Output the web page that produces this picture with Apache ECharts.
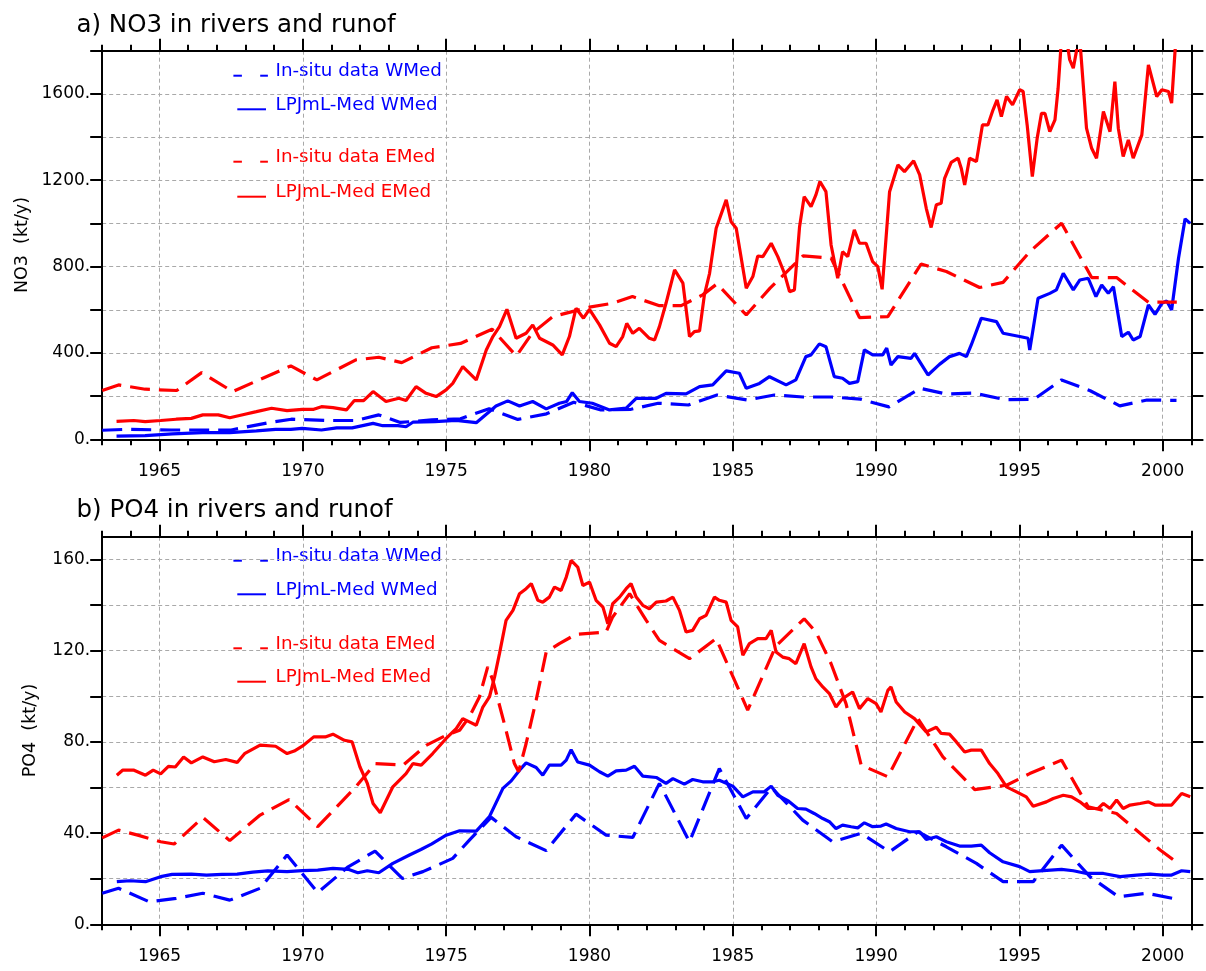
<!DOCTYPE html>
<html><head><meta charset="utf-8">
<script src="https://cdn.jsdelivr.net/npm/echarts@6/dist/echarts.min.js"></script>
<style>html,body{margin:0;padding:0;background:#fff}#c{width:1206px;height:971px}</style>
</head><body><div id="c"></div>
<script>
// ---------- axes ----------
const xMin = 1963, xMax = 2001;
const majorYears = [1965, 1970, 1975, 1980, 1985, 1990, 1995, 2000];
const no3Max = 1800, no3Step = 200;
const po4Max = 170, po4Step = 20;
const po4Ticks = [0, 20, 40, 60, 80, 100, 120, 140, 160];
const titles = ['a) NO3 in rivers and runof', 'b) PO4 in rivers and runof'];
const yNames = ['NO3  (kt/y)', 'PO4  (kt/y)'];
const legendLabels = ['In-situ data WMed', 'LPJmL-Med WMed', 'In-situ data EMed', 'LPJmL-Med EMed'];

// ---------- NO3 (panel a) ----------
const no3InsituWYears = [1963.0,1963.8,1965.4,1967.5,1968.8,1969.6,1970.8,1971.85,1972.65,1973.4,1974.5,1975.5,1976.5,1977.5,1978.5,1979.45,1980.4,1981.45,1982.4,1983.45,1984.45,1985.5,1986.45,1987.45,1988.45,1989.45,1990.45,1991.53,1992.45,1993.4,1994.5,1995.5,1996.47,1997.47,1998.5,1999.45,2000.48];
const no3InsituWValues = [42,46,43,43,77,93,87,87,113,78,90,95,142,92,118,172,136,139,167,159,205,182,205,196,196,186,150,236,210,214,184,185,275,225,155,182,180];

const no3ModelWYears = [1963.5,1964.5,1965.45,1966.5,1967.45,1968.38,1969.05,1969.58,1969.98,1970.65,1971.18,1971.72,1972.45,1972.79,1973.32,1973.6,1973.85,1974.6,1975.35,1976.05,1976.74,1977.15,1977.56,1978.02,1978.49,1978.95,1979.2,1979.4,1979.65,1980.1,1980.7,1981.28,1981.63,1982.33,1982.67,1983.37,1983.84,1984.3,1984.77,1985.23,1985.47,1985.93,1986.28,1986.86,1987.2,1987.55,1987.73,1988.02,1988.25,1988.54,1988.83,1989.07,1989.36,1989.59,1989.88,1990.23,1990.37,1990.52,1990.76,1991.22,1991.34,1991.81,1992.21,1992.56,1992.91,1993.15,1993.32,1993.67,1994.2,1994.43,1995.01,1995.3,1995.36,1995.65,1996.06,1996.29,1996.53,1996.88,1997.11,1997.4,1997.67,1997.87,1998.1,1998.28,1998.57,1998.8,1998.97,1999.21,1999.5,1999.73,1999.97,2000.14,2000.31,2000.55,2000.78,2000.96];
const no3ModelWValues = [15,17,25,31,31,39,46,46,51,43,53,53,74,63,63,58,80,82,88,77,154,178,154,175,141,167,175,216,175,167,136,144,190,190,213,210,244,252,317,306,236,259,290,252,275,383,391,442,429,290,283,259,267,414,391,391,422,344,383,375,398,298,347,383,398,383,437,561,545,491,476,468,414,653,676,692,769,692,738,746,661,715,676,707,476,496,460,476,622,579,630,641,599,839,1021,1000];

const no3InsituEYears = [1963.0,1963.57,1964.5,1965.6,1966.47,1967.55,1969.58,1970.49,1971.85,1972.65,1973.45,1974.5,1975.5,1976.6,1977.45,1978.0,1978.72,1979.5,1980.0,1980.8,1981.5,1982.44,1983.2,1983.95,1984.45,1985.47,1986.3,1987.45,1988.43,1989.42,1990.41,1991.57,1992.45,1993.61,1994.43,1995.36,1996.47,1997.52,1998.39,1999.5,2000.49];
const no3InsituEValues = [226,252,232,226,309,221,340,275,368,380,355,424,444,510,386,491,568,595,612,630,661,619,619,669,720,576,700,850,839,564,568,812,777,703,727,869,1001,749,749,635,635];

const no3ModelEYears = [1963.5,1964.1,1964.5,1965.04,1965.58,1966.11,1966.51,1967.05,1967.45,1967.98,1968.38,1968.91,1969.45,1969.98,1970.38,1970.65,1971.05,1971.52,1971.79,1972.12,1972.45,1972.9,1973.35,1973.6,1973.95,1974.3,1974.65,1975.0,1975.23,1975.58,1976.05,1976.4,1976.63,1976.86,1977.12,1977.44,1977.79,1978.02,1978.26,1978.72,1979.05,1979.3,1979.53,1979.79,1980.0,1980.35,1980.7,1980.93,1981.16,1981.3,1981.51,1981.74,1982.09,1982.27,1982.44,1982.67,1982.97,1983.26,1983.49,1983.66,1983.84,1984.01,1984.19,1984.42,1984.77,1984.94,1985.12,1985.47,1985.7,1985.87,1986.05,1986.34,1986.57,1986.8,1986.98,1987.15,1987.33,1987.49,1987.73,1987.9,1988.04,1988.25,1988.43,1988.66,1988.83,1989.01,1989.24,1989.42,1989.65,1989.88,1990.06,1990.21,1990.47,1990.76,1990.99,1991.31,1991.52,1991.75,1991.92,1992.1,1992.27,1992.39,1992.62,1992.86,1992.97,1993.09,1993.26,1993.5,1993.71,1993.9,1994.08,1994.22,1994.37,1994.55,1994.76,1995.01,1995.13,1995.27,1995.45,1995.62,1995.77,1995.89,1996.06,1996.24,1996.35,1996.45,1996.6,1996.75,1996.88,1997.02,1997.12,1997.34,1997.52,1997.69,1997.93,1998.16,1998.33,1998.45,1998.62,1998.8,1998.97,1999.27,1999.5,1999.79,1999.97,2000.2,2000.31,2000.43,2000.5];
const no3ModelEValues = [83,87,82,87,93,97,113,113,100,116,128,144,133,139,139,151,147,136,179,179,221,175,190,180,244,213,198,229,259,337,275,414,476,522,602,468,491,530,468,437,391,476,607,561,602,530,445,429,476,537,491,514,468,460,522,630,785,723,476,499,502,669,769,978,1109,1008,978,700,754,849,846,908,846,769,684,692,985,1124,1078,1132,1194,1147,900,746,869,846,970,908,908,823,800,695,1147,1271,1240,1290,1225,1070,981,1086,1093,1209,1283,1302,1256,1178,1302,1287,1456,1456,1526,1572,1495,1588,1549,1619,1611,1456,1217,1395,1510,1510,1425,1480,1626,1820,1900,1760,1719,1820,1830,1441,1348,1302,1518,1425,1657,1441,1310,1387,1302,1410,1734,1588,1619,1611,1557,1800,1900];

// ---------- PO4 (panel b) ----------
const po4InsituWYears = [1963.0,1963.57,1964.64,1965.58,1966.51,1967.45,1968.51,1969.45,1970.52,1971.58,1972.52,1973.47,1974.19,1975.23,1975.81,1976.57,1977.44,1978.49,1979.53,1980.58,1981.51,1982.44,1983.49,1984.53,1985.47,1986.35,1987.44,1988.48,1989.48,1990.47,1991.46,1992.45,1993.5,1994.43,1995.48,1996.47,1997.46,1998.45,1999.44,2000.49];
const po4InsituWValues = [13.6,15.8,9.9,11.4,13.6,10.6,15.8,30.4,13.9,25.2,32.1,20.1,23.1,28.9,36.9,46.9,38.4,32.3,48.3,39.1,38.1,61.8,36.2,68.3,46.4,60.0,45.7,36.2,39.9,31.8,40.6,34.0,26.7,18.7,18.7,34.7,20.9,12.1,13.6,11.0];

const po4ModelWYears = [1963.51,1963.97,1964.51,1965.04,1965.44,1966.11,1966.64,1967.18,1967.71,1968.25,1968.78,1969.45,1969.98,1970.52,1971.05,1971.58,1971.92,1972.25,1972.65,1973.14,1973.72,1974.12,1974.5,1975.0,1975.47,1976.05,1976.51,1976.98,1977.27,1977.56,1977.79,1978.14,1978.37,1978.6,1979.01,1979.19,1979.36,1979.59,1980.0,1980.35,1980.64,1980.93,1981.28,1981.57,1981.86,1982.33,1982.67,1982.91,1983.31,1983.6,1983.95,1984.3,1984.53,1985.0,1985.35,1985.7,1986.1,1986.34,1986.57,1986.95,1987.26,1987.55,1987.84,1988.14,1988.37,1988.6,1988.83,1989.13,1989.36,1989.59,1989.88,1990.17,1990.35,1990.7,1991.17,1991.52,1991.75,1992.1,1992.45,1992.91,1993.32,1993.67,1993.96,1994.43,1995.01,1995.36,1995.83,1996.47,1996.88,1997.34,1997.93,1998.51,1999.09,1999.56,2000.02,2000.31,2000.66,2000.96];
const po4ModelWValues = [18.7,19.1,18.7,20.9,21.9,22.0,21.6,21.9,22.0,22.9,23.4,23.1,23.5,23.8,24.5,24.1,22.6,23.5,22.6,26.7,30.4,32.8,35.3,39.1,41.0,40.9,47.2,59.6,62.9,67.6,70.8,68.8,65.4,69.8,69.8,72.0,76.6,71.2,69.8,66.9,65.0,67.3,67.6,69.3,65.0,64.4,61.8,63.9,61.5,63.5,62.5,62.5,63.2,60.6,55.9,58.1,58.1,60.6,56.6,54.0,50.8,50.5,48.6,46.4,45.0,42.0,43.5,42.8,42.3,44.5,42.8,43.1,44.0,42.0,40.6,40.6,37.2,38.4,36.2,34.3,34.3,34.7,31.4,27.4,25.3,23.1,23.5,24.1,23.5,22.3,22.3,20.9,21.6,22.0,21.6,21.6,23.5,23.1];

const po4InsituEYears = [1963.0,1963.57,1964.24,1965.04,1965.51,1966.51,1967.45,1968.51,1969.52,1970.52,1971.85,1972.52,1973.5,1974.3,1975.0,1975.47,1975.81,1976.16,1976.45,1976.63,1977.03,1977.38,1977.53,1977.79,1978.14,1978.49,1978.95,1979.53,1980.58,1980.81,1981.4,1981.98,1982.44,1983.49,1984.42,1985.52,1986.5,1987.49,1987.9,1988.43,1988.95,1989.48,1990.41,1991.46,1992.33,1993.44,1994.55,1995.36,1996.47,1997.4,1998.39,1999.21,1999.91,2000.49];
const po4InsituEValues = [37.9,41.3,39.1,36.2,35.2,46.9,36.7,47.9,54.7,42.8,60.3,70.5,69.8,78.5,82.9,85.1,91.0,99.7,112.9,107.0,88.0,70.5,66.9,79.3,98.3,119.4,123.1,127.2,128.2,134.8,145.0,133.3,124.5,116.5,125.3,93.9,122.0,134.0,128.2,114.3,96.8,69.8,64.7,90.2,73.4,59.1,61.0,66.1,72.0,51.5,48.6,39.9,32.6,27.2];

const po4ModelEYears = [1963.51,1963.71,1964.11,1964.51,1964.78,1965.04,1965.31,1965.55,1965.84,1966.11,1966.51,1966.91,1967.31,1967.71,1967.98,1968.51,1969.05,1969.45,1969.7,1969.98,1970.38,1970.78,1971.05,1971.45,1971.72,1971.99,1972.25,1972.45,1972.7,1973.14,1973.6,1973.84,1974.13,1974.53,1975.0,1975.35,1975.58,1975.81,1976.05,1976.28,1976.51,1976.69,1976.86,1977.09,1977.33,1977.56,1977.79,1977.97,1978.2,1978.37,1978.6,1978.78,1979.01,1979.19,1979.36,1979.59,1979.77,1980.0,1980.23,1980.47,1980.64,1980.81,1981.05,1981.28,1981.45,1981.63,1981.86,1982.09,1982.33,1982.67,1982.91,1983.14,1983.37,1983.6,1983.84,1984.07,1984.36,1984.53,1984.77,1984.94,1985.17,1985.35,1985.58,1985.87,1986.16,1986.34,1986.51,1986.74,1986.97,1987.2,1987.49,1987.73,1987.9,1988.14,1988.37,1988.6,1988.83,1989.18,1989.42,1989.71,1990.0,1990.17,1990.41,1990.52,1990.7,1991.0,1991.34,1991.75,1992.1,1992.27,1992.56,1992.8,1993.09,1993.32,1993.67,1993.96,1994.25,1994.55,1994.9,1995.24,1995.48,1995.94,1996.18,1996.53,1996.82,1997.11,1997.4,1997.75,1997.93,1998.16,1998.39,1998.62,1998.86,1999.21,1999.5,1999.73,2000.08,2000.31,2000.66,2000.96];
const po4ModelEValues = [65.4,67.6,67.6,65.4,67.6,66.0,69.3,69.0,73.4,70.8,73.4,71.3,72.3,71.0,75.0,78.6,78.1,74.9,76.0,78.1,82.2,82.2,83.4,80.7,80.0,69.1,61.8,53.0,48.9,60.3,66.1,70.5,69.8,74.9,81.5,85.8,90.2,88.8,87.3,95.3,99.7,108.5,118.7,133.3,137.7,145.0,147.2,149.4,142.1,141.3,143.5,147.9,146.4,152.3,159.6,156.7,148.6,150.1,142.1,139.1,131.8,140.6,143.5,147.2,149.4,143.5,139.9,138.4,141.3,141.8,143.5,137.7,128.2,128.9,134.0,135.5,143.5,142.1,141.3,133.3,130.4,118.0,123.1,125.3,125.3,128.9,119.4,117.2,116.5,114.3,123.1,112.9,107.7,104.1,101.2,95.3,99.0,101.9,94.6,99.0,96.8,93.1,102.6,104.1,97.5,93.1,90.2,84.4,86.4,83.7,83.4,80.0,75.6,76.4,76.4,70.5,66.1,60.3,58.1,55.9,51.8,53.7,55.2,56.6,55.9,53.7,50.8,50.8,53.0,50.8,54.5,50.8,52.3,53.0,53.7,52.3,52.3,52.3,57.4,55.9];

// ---------- build ----------
const zip = (xs, ys) => xs.map((x, i) => [x, ys[i]]);
const BLUE = '#0000ff', RED = '#ff0000';
const FONT = 'DejaVu Sans';
const DASH = [20, 9];
const GRIDLINE = { color: '#a9a9a9', width: 1, type: [4, 3] };
const BLACK = { color: '#000', width: 2 };
const TICKFONT = 17;

function xAxesFor(gi) {
  const base = { gridIndex: gi, type: 'value', min: xMin, max: xMax };
  return [
    Object.assign({}, base, { position: 'bottom', interval: 1,
      axisLine: { show: true, onZero: false, lineStyle: BLACK },
      axisTick: { show: true, inside: false, length: 6, lineStyle: BLACK },
      axisLabel: { show: false }, splitLine: { show: false } }),
    Object.assign({}, base, { position: 'bottom',
      axisLine: { show: false, onZero: false },
      axisTick: { show: true, inside: false, length: 12, customValues: majorYears, lineStyle: BLACK },
      axisLabel: { show: true, customValues: majorYears, formatter: v => String(v), margin: 24,
        fontSize: TICKFONT, fontFamily: FONT, color: '#000' },
      splitLine: { show: true, lineStyle: GRIDLINE } }),
    Object.assign({}, base, { position: 'top', interval: 1,
      axisLine: { show: true, onZero: false, lineStyle: BLACK },
      axisTick: { show: true, inside: false, length: 6, lineStyle: BLACK },
      axisLabel: { show: false }, splitLine: { show: false } }),
    Object.assign({}, base, { position: 'top',
      axisLine: { show: false, onZero: false },
      axisTick: { show: true, inside: false, length: 12, customValues: majorYears, lineStyle: BLACK },
      axisLabel: { show: false }, splitLine: { show: false } })
  ];
}

function yAxesFor(gi, max, step, labelEvery, tickValues) {
  const tick = { show: true, inside: false, length: 12, lineStyle: BLACK };
  if (tickValues) tick.customValues = tickValues;
  return [
    { gridIndex: gi, type: 'value', min: 0, max: max, interval: step, position: 'left',
      axisLine: { show: true, onZero: false, lineStyle: BLACK },
      axisTick: tick,
      axisLabel: { formatter: v => (v % labelEvery === 0 && v <= max - step / 2) || v === 0 ? v + '.' : '',
        margin: 12, fontSize: TICKFONT, fontFamily: FONT, color: '#000' },
      splitLine: { show: true, lineStyle: GRIDLINE } },
    { gridIndex: gi, type: 'value', min: 0, max: max, interval: step, position: 'right',
      axisLine: { show: true, onZero: false, lineStyle: BLACK },
      axisTick: tick, axisLabel: { show: false }, splitLine: { show: false } }
  ];
}

function mkSeries(name, xi, yi, data, color, dashed) {
  return { name, type: 'line', xAxisIndex: xi, yAxisIndex: yi, data, symbol: 'none',
    smooth: false, clip: true, animation: false,
    lineStyle: { color, width: 3.2, type: dashed ? DASH : 'solid' } };
}

const series = [
  mkSeries(legendLabels[0], 0, 0, zip(no3InsituWYears, no3InsituWValues), BLUE, true),
  mkSeries(legendLabels[1], 0, 0, zip(no3ModelWYears, no3ModelWValues), BLUE, false),
  mkSeries(legendLabels[2], 0, 0, zip(no3InsituEYears, no3InsituEValues), RED, true),
  mkSeries(legendLabels[3], 0, 0, zip(no3ModelEYears, no3ModelEValues), RED, false),
  mkSeries(legendLabels[0], 4, 2, zip(po4InsituWYears, po4InsituWValues), BLUE, true),
  mkSeries(legendLabels[1], 4, 2, zip(po4ModelWYears, po4ModelWValues), BLUE, false),
  mkSeries(legendLabels[2], 4, 2, zip(po4InsituEYears, po4InsituEValues), RED, true),
  mkSeries(legendLabels[3], 4, 2, zip(po4ModelEYears, po4ModelEValues), RED, false)
];

// ---------- decorations (titles, axis names, legends) ----------
const graphics = [];
const titleY = [25.5, 511];
const nameX = [22.6, 30.6], nameY = [245, 730.5];
titles.forEach((t, i) => graphics.push({ type: 'text', x: 76.5, y: titleY[i], silent: true,
  style: { text: t, font: `24.5px '${FONT}'`, fill: '#000', textAlign: 'left', textVerticalAlign: 'middle' } }));
yNames.forEach((t, i) => graphics.push({ type: 'text', x: nameX[i], y: nameY[i], rotation: Math.PI / 2, silent: true,
  style: { text: t, font: `17.5px '${FONT}'`, fill: '#000', textAlign: 'center', textVerticalAlign: 'middle' } }));

const legendColors = [BLUE, BLUE, RED, RED];
const legendDashed = [true, false, true, false];
const legendRows = [[70.7, 104.3, 156.7, 191.7], [555.7, 589.3, 643.3, 676.7]];
legendRows.forEach(rows => rows.forEach((cy, k) => {
  const c = legendColors[k];
  graphics.push({ type: 'text', x: 275.5, y: cy + 1, silent: true,
    style: { text: legendLabels[k], font: `18.3px '${FONT}'`, fill: c, textAlign: 'left', textVerticalAlign: 'middle' } });
  const ly = cy + 5;
  const segs = legendDashed[k] ? [[233.4, 241.9], [260.2, 267.9]] : [[237.3, 266]];
  segs.forEach(s => graphics.push({ type: 'line', silent: true,
    shape: { x1: s[0], y1: ly, x2: s[1], y2: ly }, style: { stroke: c, lineWidth: 2 } }));
}));

const chart = echarts.init(document.getElementById('c'), null, { renderer: 'canvas' });
chart.setOption({
  animation: false,
  backgroundColor: '#ffffff',
  grid: [
    { left: 102.2, top: 50.7, width: 1089.2, height: 388.6 },
    { left: 102.2, top: 536.7, width: 1089.2, height: 387.6 }
  ],
  xAxis: xAxesFor(0).concat(xAxesFor(1)),
  yAxis: yAxesFor(0, no3Max, no3Step, 400, null).concat(yAxesFor(1, po4Max, po4Step, 40, po4Ticks)),
  series: series,
  graphic: graphics
});
</script></body></html>
